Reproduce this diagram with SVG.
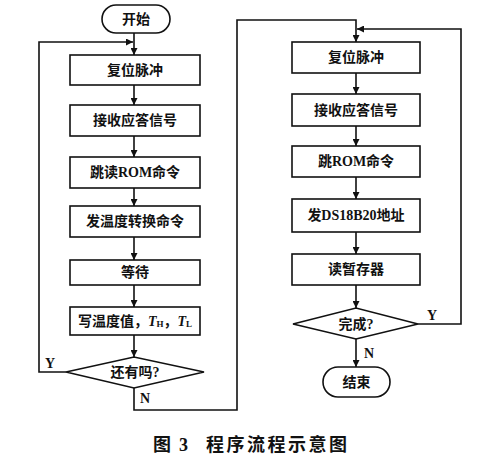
<svg xmlns="http://www.w3.org/2000/svg" width="500" height="466" viewBox="0 0 500 466">
<style>
.box{fill:#fff;stroke:#111;stroke-width:1.6}
.ln{fill:none;stroke:#111;stroke-width:1.6}
.t{font-family:"Liberation Serif","Noto Sans CJK SC",serif;font-size:14px;font-weight:bold;fill:#111;text-anchor:middle;dominant-baseline:central}
.lb{font-family:"Liberation Serif","Noto Sans CJK SC",serif;font-size:14px;font-weight:bold;fill:#111}
.cap{font-family:"Liberation Serif","Noto Sans CJK SC",serif;font-size:18px;font-weight:bold;fill:#111}
</style>
<defs>
<marker id="ar" viewBox="0 0 10 10" refX="10" refY="5" markerWidth="7" markerHeight="7" markerUnits="userSpaceOnUse" orient="auto">
<path d="M0,0 L10,5 L0,10 Z" fill="#111"/>
</marker>
</defs>
<rect width="500" height="466" fill="#fff"/>
<g id="connectors">
<path class="ln" d="M134,33 V55" marker-end="url(#ar)"/>
<path class="ln" d="M66,372 H39 V42 H133" marker-end="url(#ar)"/>
<path class="ln" d="M134,85 V105" marker-end="url(#ar)"/>
<path class="ln" d="M134,136 V157" marker-end="url(#ar)"/>
<path class="ln" d="M134,188 V206" marker-end="url(#ar)"/>
<path class="ln" d="M134,237 V260" marker-end="url(#ar)"/>
<path class="ln" d="M134,285 V307" marker-end="url(#ar)"/>
<path class="ln" d="M134,335 V357" marker-end="url(#ar)"/>
<path class="ln" d="M134,388 V410 H237 V20 H356 V42" marker-end="url(#ar)"/>
<path class="ln" d="M356,73 V94" marker-end="url(#ar)"/>
<path class="ln" d="M356,126 V146" marker-end="url(#ar)"/>
<path class="ln" d="M356,177 V199" marker-end="url(#ar)"/>
<path class="ln" d="M356,232 V254" marker-end="url(#ar)"/>
<path class="ln" d="M356,285 V308" marker-end="url(#ar)"/>
<path class="ln" d="M356,339 V367" marker-end="url(#ar)"/>
<path class="ln" d="M418,324 H461 V29 H357" marker-end="url(#ar)"/>
</g>
<g id="start"><rect class="box" x="102" y="5" width="68" height="28" rx="14"/><text class="t" x="136" y="19">开始</text></g>
<g id="l1"><rect class="box" x="70" y="55" width="130" height="30"/><text class="t" x="135" y="70">复位脉冲</text></g>
<g id="l2"><rect class="box" x="70" y="105" width="130" height="31"/><text class="t" x="135" y="120.5">接收应答信号</text></g>
<g id="l3"><rect class="box" x="70" y="157" width="130" height="31"/><text class="t" x="135" y="172.5">跳读ROM命令</text></g>
<g id="l4"><rect class="box" x="70" y="206" width="130" height="31"/><text class="t" x="135" y="221.5">发温度转换命令</text></g>
<g id="l5"><rect class="box" x="70" y="260" width="130" height="25"/><text class="t" x="135" y="272.5">等待</text></g>
<g id="l6"><rect class="box" x="70" y="307" width="130" height="28"/><text class="t" x="135" y="321">写温度值，<tspan font-style="italic">T</tspan><tspan font-size="9" dy="3">H</tspan><tspan dy="-3">，</tspan><tspan font-style="italic">T</tspan><tspan font-size="9" dy="3">L</tspan></text></g>
<g id="d1"><polygon class="box" points="66,372 134,357 204,372 134,388"/><text class="t" x="135" y="372.5">还有吗?</text></g>
<text class="lb" x="45" y="368">Y</text>
<text class="lb" x="140" y="403">N</text>
<g id="r1"><rect class="box" x="292" y="42" width="128" height="31"/><text class="t" x="356" y="57.5">复位脉冲</text></g>
<g id="r2"><rect class="box" x="292" y="94" width="128" height="32"/><text class="t" x="356" y="110">接收应答信号</text></g>
<g id="r3"><rect class="box" x="292" y="146" width="128" height="31"/><text class="t" x="356" y="161.5">跳ROM命令</text></g>
<g id="r4"><rect class="box" x="292" y="199" width="128" height="33"/><text class="t" x="356" y="215.5">发DS18B20地址</text></g>
<g id="r5"><rect class="box" x="292" y="254" width="128" height="31"/><text class="t" x="356" y="269.5">读暂存器</text></g>
<g id="d2"><polygon class="box" points="293,324 356,308 418,324 356,339"/><text class="t" x="356" y="324.5">完成?</text></g>
<text class="lb" x="427" y="320">Y</text>
<text class="lb" x="364" y="358">N</text>
<g id="end"><rect class="box" x="323" y="367" width="67" height="30" rx="15"/><text class="t" x="356.5" y="382">结束</text></g>
<text class="cap" x="153" y="451">图</text>
<text class="cap" x="179" y="451">3</text>
<text class="cap" x="206" y="451" letter-spacing="2.5">程序流程示意图</text>
</svg>
